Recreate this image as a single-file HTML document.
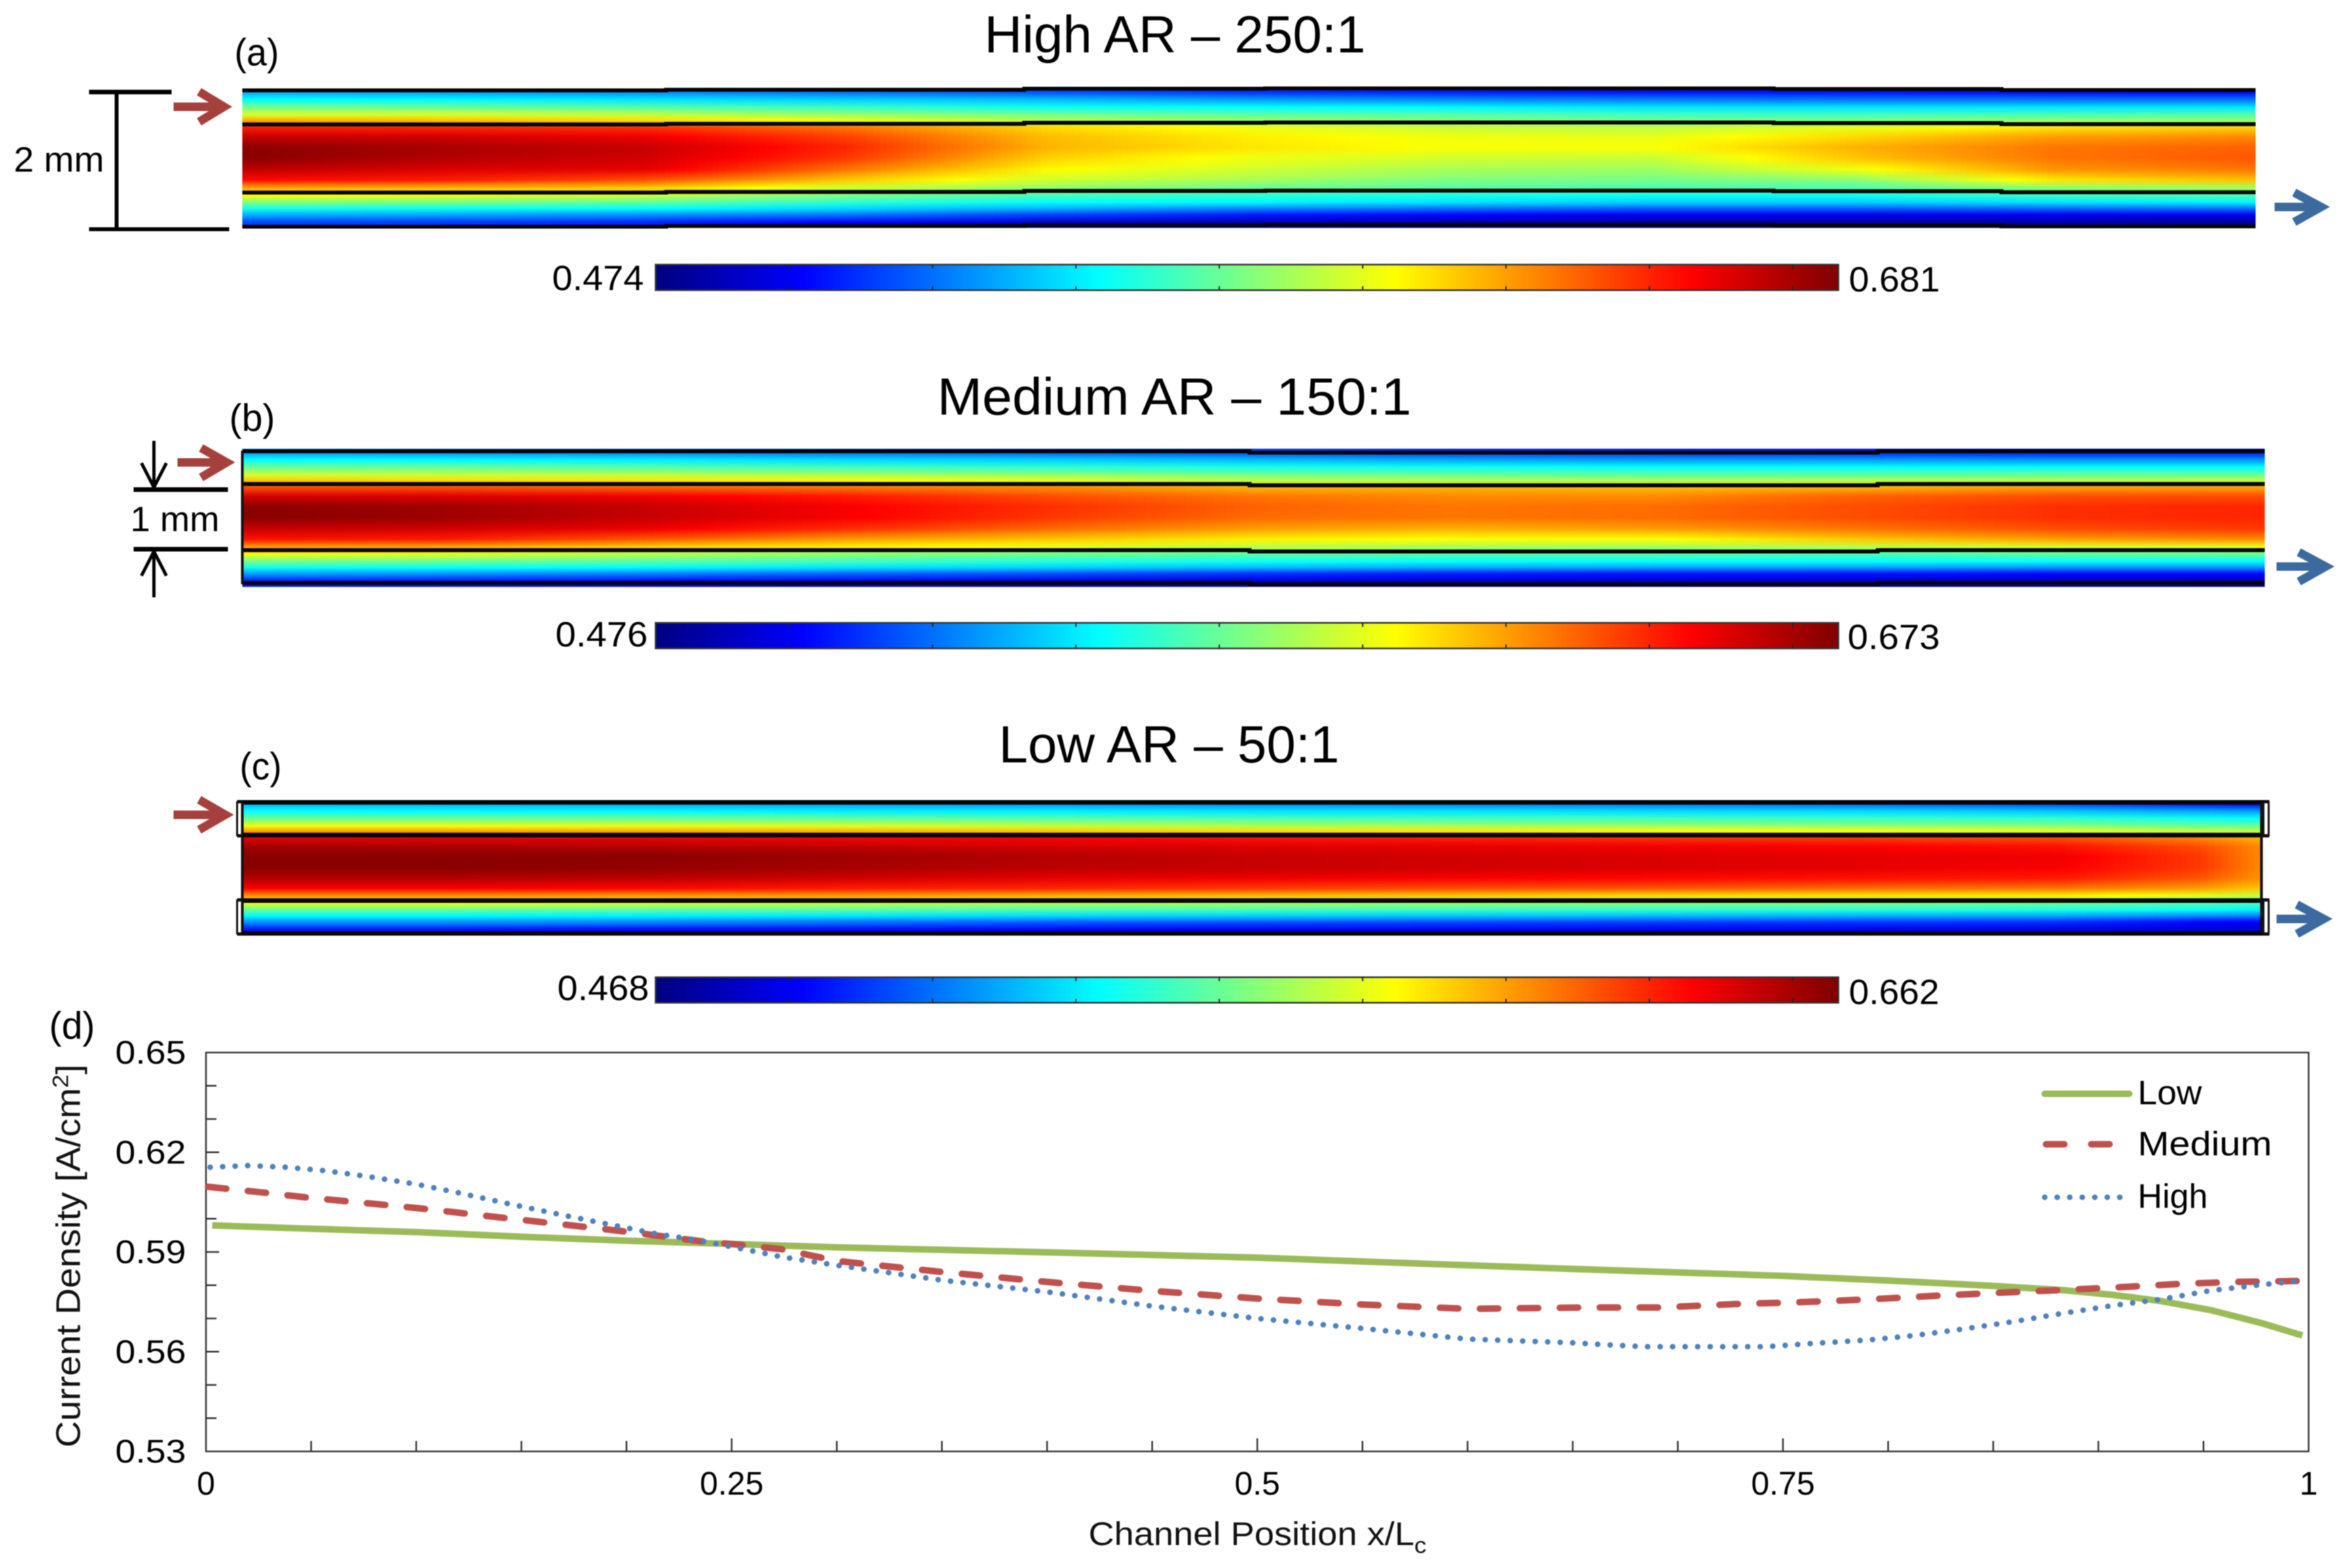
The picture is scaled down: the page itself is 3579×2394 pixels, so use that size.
<!DOCTYPE html>
<html lang="en">
<head>
<meta charset="utf-8">
<title>Current density maps and channel profile</title>
<style>
html,body{margin:0;padding:0;background:#fff;}
#figure{display:block;width:3579px;height:2394px;filter:blur(0.9px);font-family:"Liberation Sans",sans-serif;fill:#000;}
</style>
</head>
<body>
<svg id="figure" xmlns="http://www.w3.org/2000/svg" width="3579" height="2394" viewBox="0 0 3579 2394">
  <defs id="defs"></defs>
  <rect x="0" y="0" width="3579" height="2394" fill="#fff"/>

  <g id="heat-layer"></g>
  <g id="wall-layer"></g>

  <text x="1503" y="80" font-size="80" textLength="582" lengthAdjust="spacingAndGlyphs">High AR – 250:1</text>
  <text x="1431" y="633" font-size="80" textLength="724" lengthAdjust="spacingAndGlyphs">Medium AR – 150:1</text>
  <text x="1525" y="1164" font-size="80" textLength="520" lengthAdjust="spacingAndGlyphs">Low AR – 50:1</text>

  <text x="358" y="100" font-size="58" textLength="68" lengthAdjust="spacingAndGlyphs">(a)</text>
  <text x="350" y="658" font-size="58" textLength="70" lengthAdjust="spacingAndGlyphs">(b)</text>
  <text x="366" y="1190" font-size="58" textLength="64" lengthAdjust="spacingAndGlyphs">(c)</text>
  <text x="75" y="1586" font-size="58" textLength="70" lengthAdjust="spacingAndGlyphs">(d)</text>

  <g>
    <rect x="136" y="137" width="126" height="7" fill="#000"/>
    <rect x="136" y="347" width="214" height="6" fill="#000"/>
    <rect x="175" y="144" width="6" height="204" fill="#000"/>
    <text x="21" y="262" font-size="54" textLength="138" lengthAdjust="spacingAndGlyphs">2 mm</text>
  </g>

  <g>
    <rect x="204" y="744" width="144" height="7" fill="#000"/>
    <rect x="204" y="835" width="144" height="7" fill="#000"/>
    <path d="M235 673V745M216 707L235 744L254 707" fill="none" stroke="#000" stroke-width="5"/>
    <path d="M235 912V841M216 879L235 842L254 879" fill="none" stroke="#000" stroke-width="5"/>
    <text x="199" y="811" font-size="54" textLength="136" lengthAdjust="spacingAndGlyphs">1 mm</text>
  </g>

  <g fill="none" stroke="#a5403d" stroke-width="13">
    <path d="M265 163H342M304 140L342 163L304 186"/>
    <path d="M271 706H346M307 684L346 706L307 729"/>
    <path d="M265 1244H344M304 1221L344 1244L304 1267"/>
  </g>
  <g fill="none" stroke="#3c6a9f" stroke-width="13">
    <path d="M3473 316H3544M3503 294L3544 316L3503 339"/>
    <path d="M3476 865H3551M3510 843L3551 865L3510 888"/>
    <path d="M3476 1403H3548M3507 1381L3548 1403L3507 1426"/>
  </g>

  <g id="colorbar-layer"></g>

  <text x="843" y="443" font-size="54" textLength="140" lengthAdjust="spacingAndGlyphs">0.474</text>
  <text x="2823" y="445" font-size="54" textLength="139" lengthAdjust="spacingAndGlyphs">0.681</text>
  <text x="848" y="987" font-size="54" textLength="141" lengthAdjust="spacingAndGlyphs">0.476</text>
  <text x="2821" y="991" font-size="54" textLength="141" lengthAdjust="spacingAndGlyphs">0.673</text>
  <text x="851" y="1527" font-size="54" textLength="140" lengthAdjust="spacingAndGlyphs">0.468</text>
  <text x="2823" y="1533" font-size="54" textLength="138" lengthAdjust="spacingAndGlyphs">0.662</text>

  <g id="plot"></g>

  <text transform="translate(122 2210) rotate(-90)" font-size="52" textLength="585" lengthAdjust="spacingAndGlyphs" fill="#111">Current Density [A/cm<tspan dy="-18" font-size="34">2</tspan><tspan dy="18">]</tspan></text>
  <text x="1662" y="2359" font-size="50" textLength="516" lengthAdjust="spacingAndGlyphs" fill="#111">Channel Position x/L<tspan dy="12" font-size="34">c</tspan></text>

  <g>
    <line x1="3122" y1="1670" x2="3251" y2="1670" stroke="#9bbb59" stroke-width="10" stroke-linecap="round"/>
    <line x1="3124" y1="1747" x2="3224" y2="1747" stroke="#c0504d" stroke-width="10" stroke-linecap="round" stroke-dasharray="28 41"/>
    <line x1="3122" y1="1828" x2="3242" y2="1828" stroke="#4f81bd" stroke-width="8.5" stroke-linecap="round" stroke-dasharray="0.1 19"/>
    <text x="3264" y="1686" font-size="52" textLength="98" lengthAdjust="spacingAndGlyphs">Low</text>
    <text x="3264" y="1764" font-size="52" textLength="205" lengthAdjust="spacingAndGlyphs">Medium</text>
    <text x="3264" y="1844" font-size="52" textLength="107" lengthAdjust="spacingAndGlyphs">High</text>
  </g>
</svg>

<script>
// ---- Line chart data ----
const yTickLabels = ["0.65", "0.62", "0.59", "0.56", "0.53"];
const yTickValues = [0.65, 0.62, 0.59, 0.56, 0.53];
const xTickLabels = ["0", "0.25", "0.5", "0.75", "1"];
const xTickValues = [0, 0.25, 0.5, 0.75, 1];

const lowPositions = [0.003,0.05,0.1,0.15,0.2,0.25,0.3,0.4,0.5,0.6,0.65,0.75,0.8,0.85,0.8836,0.907,0.93,0.9535,0.977,0.997];
const lowDensity = [0.598,0.597,0.596,0.5946,0.5934,0.5924,0.5914,0.5899,0.5883,0.586,0.5849,0.5828,0.5814,0.5798,0.5785,0.5771,0.5752,0.5725,0.5687,0.5649];

const mediumPositions = [0.001,0.027,0.048,0.088,0.105,0.141,0.1765,0.2,0.236,0.255,0.274,0.3,0.35,0.4,0.45,0.5,0.55,0.6,0.656,0.691,0.7125,0.7336,0.75,0.771,0.792,0.825,0.8484,0.8836,0.907,0.942,0.9656,0.996];
const mediumDensity = [0.6096,0.6079,0.6064,0.604,0.6029,0.6003,0.5978,0.5961,0.5932,0.5921,0.5908,0.5873,0.584,0.581,0.5783,0.576,0.5742,0.5729,0.5733,0.5733,0.5739,0.5745,0.5747,0.5752,0.5758,0.5769,0.5776,0.5786,0.5793,0.5805,0.581,0.5813];

const highPositions = [0.002,0.0203,0.038,0.056,0.076,0.1,0.1217,0.144,0.172,0.1956,0.2147,0.2314,0.2505,0.274,0.3,0.35,0.4,0.45,0.5,0.55,0.6,0.649,0.6657,0.684,0.708,0.742,0.762,0.79,0.813,0.8367,0.86,0.8836,0.907,0.93,0.9535,0.977,0.996];
const highDensity = [0.6155,0.616,0.6155,0.6145,0.6128,0.6104,0.6076,0.6045,0.6008,0.5978,0.5954,0.5938,0.5915,0.5885,0.586,0.5815,0.578,0.5737,0.57,0.567,0.5638,0.5627,0.5621,0.5615,0.5615,0.5615,0.5624,0.5635,0.5649,0.5669,0.5691,0.5716,0.5739,0.5758,0.5784,0.5801,0.5813];

// ---- Heatmap data: percent of colour scale; one row per cross-channel position, one column per channel position ----
const channelPositions = [0,0.1,0.2,0.3,0.4,0.5,0.6,0.7,0.8,0.9,1];
const lowChannelPositions = [0,0.1,0.2,0.3,0.4,0.5,0.6,0.7,0.8,0.9,0.97,1];
const crossChannelMm = [0.05,0.16,0.27,0.38,0.46,0.56,0.69,0.84,1,1.16,1.31,1.42,1.53,1.63,1.72,1.81,1.92];

const highARField = [
 [29,38,49,59,71,85,93,99,99,94,87,72,63,50,40,30,19],
 [28,37,48,59,69,84,92,96,95,91,85,70,61,49,39,29,18],
 [26,35,46,57,66,83,89,93,92,90,80,68,58,47,38,27,16],
 [23,33,43,53,61,76,81,84,82,76,68,58,50,42,34,24,12],
 [20,31,39,49,56,66,69,70,67,63,58,52,45,38,30,19,8],
 [17,28,38,47,53,61,64,65,61,58,54,48,42,37,26,15,6],
 [15,26,37,46,51,57,61,62,58,54,50,46,40,35,24,13,5],
 [14,25,35,44,49,56,60,62,57,53,49,45,39,33,22,11,4],
 [14,24,35,44,50,60,66,70,68,61,51,45,39,33,22,11,4],
 [13,24,35,45,52,65,72,76,76,73,65,52,43,35,23,11,4],
 [12,24,35,46,52,67,74,78,79,76,69,54,45,37,24,11,3]
];
const mediumARField = [
 [27,38,48,58,68,80,92,99,99,93,86,72,61,49,39,28,15],
 [26,37,48,57,66,80,91,97,97,92,85,71,59,48,38,27,14],
 [25,36,46,56,65,78,89,93,93,89,79,67,55,46,37,25,13],
 [23,34,44,54,63,76,85,88,88,83,72,64,51,44,35,22,11],
 [21,33,42,52,60,74,80,83,82,77,68,61,48,41,33,20,9],
 [19,31,40,49,56,70,76,78,77,72,64,56,46,39,31,17,8],
 [17,29,39,48,55,70,74,76,76,70,62,54,45,38,29,15,7],
 [16,28,38,47,54,69,74,77,77,72,62,53,45,38,28,14,7],
 [15,28,38,47,55,70,78,80,80,76,68,56,44,38,28,14,6],
 [14,27,38,48,55,72,80,83,83,80,72,59,46,38,27,13,6],
 [14,27,38,48,56,72,80,84,84,82,74,60,47,38,27,13,5]
];
const lowARField = [
 [30,38,48,61,72,90,97,99,99,95,88,73,61,47,37,27,15],
 [30,37,48,61,72,90,96,99,99,95,88,73,61,47,37,27,15],
 [29,37,48,60,71,90,95,99,98,94,87,72,59,46,36,26,14],
 [28,36,47,59,70,88,94,97,96,92,85,72,57,46,35,24,14],
 [27,36,46,57,68,88,92,95,94,90,84,70,55,45,34,22,13],
 [26,35,45,55,66,86,91,93,93,89,82,69,54,44,33,21,12],
 [25,35,44,54,65,85,90,92,92,88,80,68,53,43,32,20,12],
 [24,34,44,53,63,83,89,91,91,87,79,66,51,42,31,19,11],
 [22,34,43,52,62,82,88,90,90,86,77,65,50,41,30,18,11],
 [19,32,42,51,60,80,86,89,88,85,76,64,48,40,29,17,10],
 [14,29,39,48,57,74,80,82,82,79,72,60,46,38,26,13,9],
 [12,28,38,48,56,70,74,74,74,73,68,56,44,36,25,12,8]
];

// ---- Rendering ----
const NS = "http://www.w3.org/2000/svg";
const defs = document.getElementById("defs");

function make(tag, parent) {
  const el = document.createElementNS(NS, tag);
  parent.appendChild(el);
  return el;
}
function jet(pct) {
  const t = Math.max(0, Math.min(1, pct / 100));
  const ch = function (c) { return Math.round(255 * Math.max(0, Math.min(1, 1.5 - Math.abs(4 * t - c)))); };
  return "rgb(" + ch(3) + "," + ch(2) + "," + ch(1) + ")";
}
function sampleColumn(field, positions, u, row) {
  let i = 0;
  while (i < positions.length - 2 && u > positions[i + 1]) i++;
  const f = (u - positions[i]) / (positions[i + 1] - positions[i]);
  return field[i][row] * (1 - f) + field[i + 1][row] * f;
}

function drawHeat(field, positions, key, x0, x1, y0, y1) {
  const layer = document.getElementById("heat-layer");
  const group = make("g", layer);
  
  
  const columns = 300;
  const w = (x1 - x0) / columns;
  for (let c = 0; c < columns; c++) {
    const u = (c + 0.5) / columns;
    const grad = make("linearGradient", defs);
    const id = "hg-" + key + "-" + c;
    grad.setAttribute("id", id);
    grad.setAttribute("x1", "0"); grad.setAttribute("x2", "0");
    grad.setAttribute("y1", "0"); grad.setAttribute("y2", "1");
    crossChannelMm.forEach(function (mm, r) {
      const stop = make("stop", grad);
      stop.setAttribute("offset", mm / 2);
      stop.setAttribute("stop-color", jet(sampleColumn(field, positions, u, r)));
    });
    const rect = make("rect", group);
    rect.setAttribute("x", x0 + c * w);
    rect.setAttribute("y", y0);
    rect.setAttribute("width", c === columns - 1 ? w : w + 1);
    rect.setAttribute("height", y1 - y0);
    rect.setAttribute("fill", "url(#" + id + ")");
    
    
  }
}
drawHeat(highARField, channelPositions, "high-ar", 370, 3444, 135, 348);
drawHeat(mediumARField, channelPositions, "medium-ar", 370, 3458, 685, 896);
drawHeat(lowARField, lowChannelPositions, "low-ar", 370, 3453, 1222, 1427);

function drawWalls(key, ys, stepXs, offsets, width) {
  const layer = document.getElementById("wall-layer");
  ys.forEach(function (y, n) {
    let d = "";
    offsets.forEach(function (o, i) {
      d += (i === 0 ? "M" : "L") + stepXs[i] + " " + (y + o) + "L" + stepXs[i + 1] + " " + (y + o);
    });
    const p = make("path", layer);
    p.setAttribute("d", d);
    p.setAttribute("fill", "none");
    p.setAttribute("stroke", "#050505");
    p.setAttribute("stroke-width", width);
    
    
  });
}
drawWalls("high-ar", [138, 190, 294, 346], [370,1017,1564,1932,2708,3056,3444], [0,-1,-2.5,-3,-2,-0.5], 6);
drawWalls("medium-ar", [689, 739, 840, 890], [370,1908,2867,3458], [0,2,0], 6);
drawWalls("low-ar", [1225, 1275, 1375, 1425], [362,3465], [0], 7);

function drawLowTabs() {
  const layer = document.getElementById("wall-layer");
  [[362,1225,50],[362,1375,50],[3456,1225,50],[3456,1375,50]].forEach(function (t) {
    const r = make("rect", layer);
    r.setAttribute("x", t[0]);
    r.setAttribute("y", t[1]);
    r.setAttribute("width", 8);
    r.setAttribute("height", t[2]);
    r.setAttribute("fill", "#fff");
    r.setAttribute("stroke", "#111");
    r.setAttribute("stroke-width", 3);
    
    
  });
  [[370,1225,1425],[3453,1225,1425],[370,688,892]].forEach(function (v) {
    const l = make("line", layer);
    l.setAttribute("x1", v[0]); l.setAttribute("x2", v[0]);
    l.setAttribute("y1", v[1]); l.setAttribute("y2", v[2]);
    l.setAttribute("stroke", "#111");
    l.setAttribute("stroke-width", 4);
    
    
  });
}
drawLowTabs();

const jetGrad = make("linearGradient", defs);
jetGrad.setAttribute("id", "jet");
for (let i = 0; i <= 32; i++) {
  const s = make("stop", jetGrad);
  s.setAttribute("offset", i / 32);
  s.setAttribute("stop-color", jet(i / 32 * 100));
}
function drawColorbar(key, top) {
  const layer = document.getElementById("colorbar-layer");
  const g = make("g", layer);
  
  
  const r = make("rect", g);
  r.setAttribute("x", 1001); r.setAttribute("y", top);
  r.setAttribute("width", 1806); r.setAttribute("height", 39);
  r.setAttribute("fill", "url(#jet)");
  r.setAttribute("stroke", "#333");
  r.setAttribute("stroke-width", 2.5);
  
  
  for (let i = 0; i < 8; i++) {
    const x = 1205 + i * 218.9;
    [[top, top + 6], [top + 33, top + 39]].forEach(function (seg) {
      const t = make("line", g);
      t.setAttribute("x1", x); t.setAttribute("x2", x);
      t.setAttribute("y1", seg[0]); t.setAttribute("y2", seg[1]);
      t.setAttribute("stroke", "#222");
      t.setAttribute("stroke-width", 2);
      
      
    });
  }
}
drawColorbar("a", 404);
drawColorbar("b", 951);
drawColorbar("c", 1492);

// Line chart axes
const plot = document.getElementById("plot");
const xScale = function (v) { return 314.5 + v * (3525 - 314.5); };
const yScale = function (v) { return 2216 - (v - 0.53) / 0.12 * (2216 - 1607); };

const frame = make("rect", plot);
frame.setAttribute("x", xScale(0));
frame.setAttribute("y", yScale(0.65));
frame.setAttribute("width", xScale(1) - xScale(0));
frame.setAttribute("height", yScale(0.53) - yScale(0.65));
frame.setAttribute("fill", "none");
frame.setAttribute("stroke", "#333");
frame.setAttribute("stroke-width", 2.5);



for (let i = 1; i < 12; i++) {
  const v = 0.53 + i * 0.01;
  const major = i % 3 === 0;
  const t = make("line", plot);
  t.setAttribute("x1", xScale(0));
  t.setAttribute("x2", xScale(0) + (major ? 20 : 16));
  t.setAttribute("y1", yScale(v));
  t.setAttribute("y2", yScale(v));
  t.setAttribute("stroke", "#333");
  t.setAttribute("stroke-width", 2.5);
  
  
}
for (let i = 1; i < 20; i++) {
  const v = i * 0.05;
  const major = i % 5 === 0;
  const t = make("line", plot);
  t.setAttribute("x1", xScale(v));
  t.setAttribute("x2", xScale(v));
  t.setAttribute("y1", yScale(0.53));
  t.setAttribute("y2", yScale(0.53) - (major ? 20 : 16));
  t.setAttribute("stroke", "#333");
  t.setAttribute("stroke-width", 2.5);
  
  
}
yTickValues.forEach(function (v, i) {
  const t = make("text", plot);
  t.textContent = yTickLabels[i];
  t.setAttribute("x", 176);
  t.setAttribute("y", yScale(v) + 17);
  t.setAttribute("font-size", 50);
  t.setAttribute("textLength", 108);
  t.setAttribute("lengthAdjust", "spacingAndGlyphs");
  
  
});
xTickValues.forEach(function (v, i) {
  const t = make("text", plot);
  t.textContent = xTickLabels[i];
  t.setAttribute("x", xScale(v));
  t.setAttribute("y", 2282);
  t.setAttribute("font-size", 50);
  t.setAttribute("text-anchor", "middle");
  
  
});

function drawSeries(name, xs, ys, color, width, dash, cap) {
  const p = make("path", plot);
  let d = "";
  xs.forEach(function (x, i) {
    d += (i === 0 ? "M" : "L") + xScale(x).toFixed(1) + " " + yScale(ys[i]).toFixed(1);
  });
  p.setAttribute("d", d);
  p.setAttribute("fill", "none");
  p.setAttribute("stroke", color);
  p.setAttribute("stroke-width", width);
  p.setAttribute("stroke-linejoin", "round");
  p.setAttribute("stroke-linecap", cap);
  if (dash) p.setAttribute("stroke-dasharray", dash);
  
  
}
drawSeries("low", lowPositions, lowDensity, "#9bbb59", 10, null, "butt");
drawSeries("medium", mediumPositions, mediumDensity, "#c0504d", 10, "28 33", "round");
drawSeries("high", highPositions, highDensity, "#4f81bd", 8.5, "0.1 19", "round");
</script>
</body>
</html>
